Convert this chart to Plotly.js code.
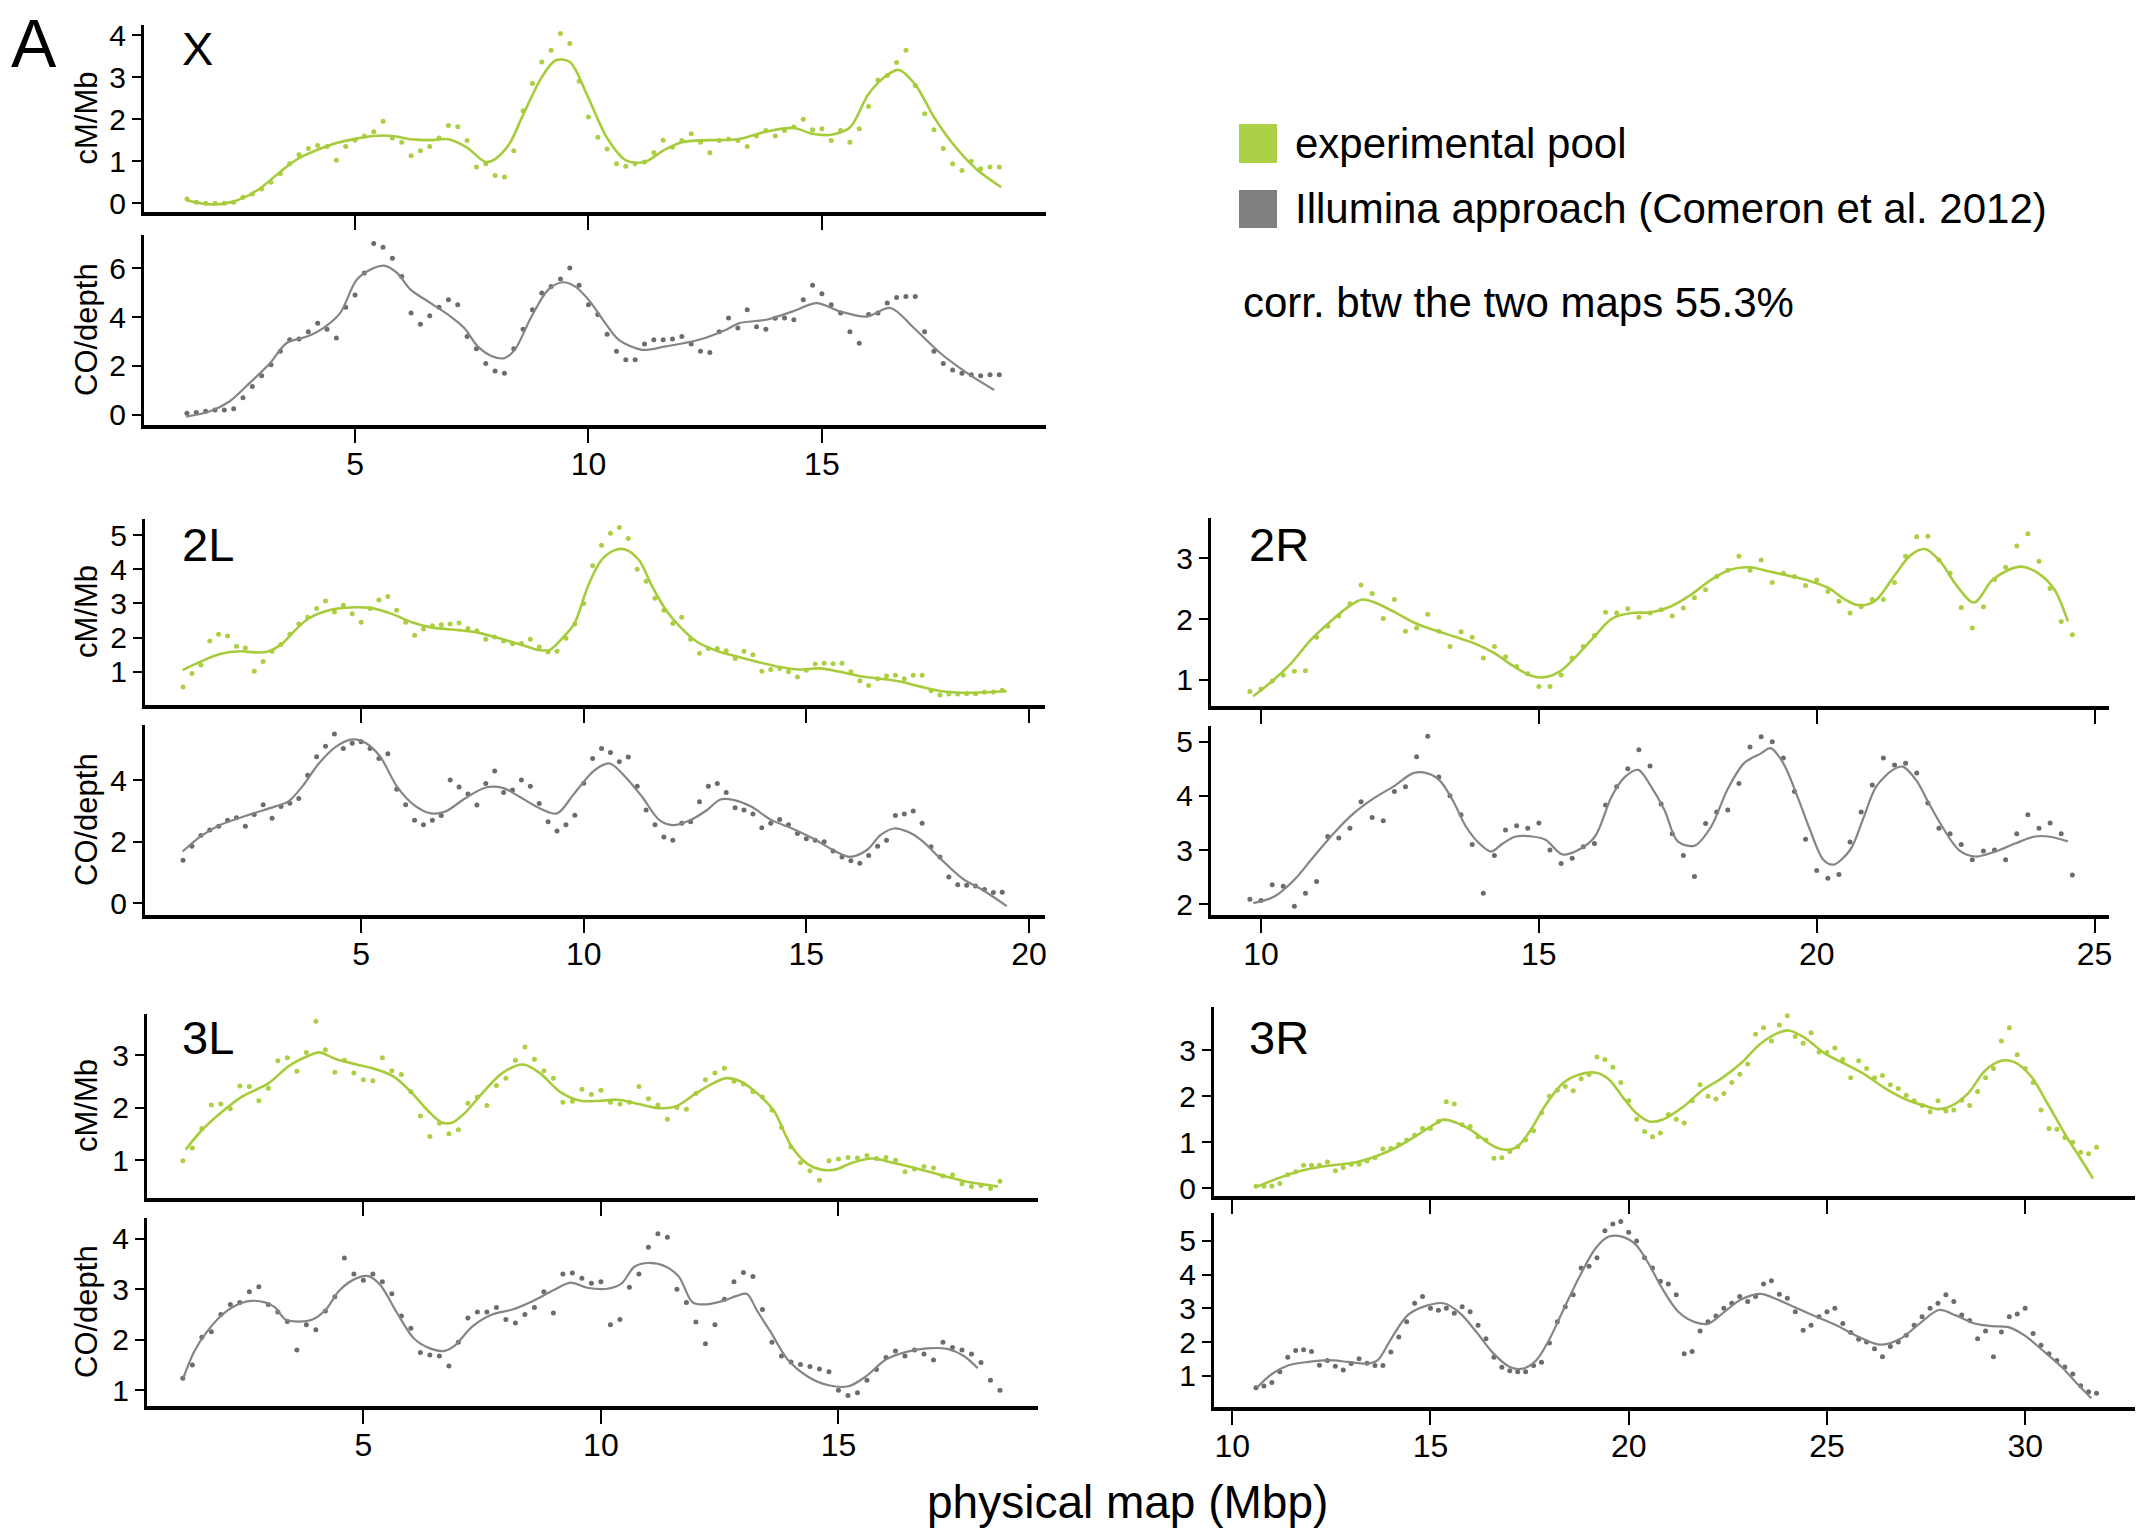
<!DOCTYPE html>
<html>
<head>
<meta charset="utf-8">
<script src="https://cdn.plot.ly/plotly-3.0.1.min.js"></script>
<style>
html,body{margin:0;padding:0;background:#fff;}
#chart{width:2146px;height:1532px;}
</style>
</head>
<body>
<div id="chart"></div>
<script>
// ---------------- DATA ----------------
// window grid step (Mb) of the dot series
const STEP = 0.2;

// X chromosome
const X_cm_start = 1.4;
const X_cm_dots = [0.1,0.02,0.0,0.0,0.0,0.02,0.14,0.22,0.34,0.5,
 0.7,0.94,1.15,1.3,1.37,1.35,1.02,1.35,1.5,1.6,
 1.7,1.95,1.55,1.45,1.13,1.25,1.35,1.55,1.85,1.82,
 1.49,0.86,0.94,0.66,0.62,1.25,2.2,2.85,3.36,3.64,
 4.04,3.8,2.9,2.05,1.57,1.29,0.94,0.88,0.94,0.98,
 1.2,1.5,1.33,1.49,1.65,1.45,1.2,1.49,1.53,1.49,
 1.35,1.6,1.73,1.6,1.73,1.81,2.0,1.75,1.77,1.49,
 1.73,1.45,1.77,2.3,2.93,3.04,3.35,3.64,2.8,2.13,
 1.75,1.3,0.94,0.78,1.0,0.82,0.86,0.86];
const X_cm_curveX = [1.4,1.8,2.2,2.6,3.0,3.4,3.8,4.2,4.6,5.0,5.4,5.8,6.2,6.6,7.0,7.4,7.8,8.0,8.3,8.6,9.0,9.3,9.6,10.0,10.4,10.8,11.2,11.6,12.0,12.6,13.2,13.8,14.4,14.8,15.2,15.6,16.0,16.4,16.65,17.0,17.4,17.8,18.3,18.84];
const X_cm_curveY = [0.07,-0.02,-0.01,0.12,0.38,0.75,1.07,1.27,1.43,1.53,1.6,1.6,1.52,1.5,1.52,1.32,0.98,1.05,1.4,2.1,3.0,3.4,3.36,2.5,1.55,1.02,0.98,1.25,1.45,1.5,1.52,1.7,1.79,1.65,1.63,1.8,2.6,3.05,3.17,2.82,2.05,1.42,0.82,0.38];

const X_co_start = 1.4;
const X_co_dots = [0.07,0.1,0.15,0.2,0.2,0.25,0.7,1.16,1.6,2.05,
 2.6,3.07,3.1,3.4,3.75,3.5,3.14,4.4,4.9,5.8,
 7.0,6.85,6.4,5.66,4.16,3.7,4.05,4.4,4.71,4.5,
 3.2,2.7,2.1,1.8,1.7,2.7,3.5,4.3,4.98,5.25,
 5.55,6.0,5.3,4.5,4.1,3.3,2.6,2.25,2.25,2.9,
 3.07,3.07,3.1,3.2,2.9,2.6,2.55,3.4,3.96,3.55,
 4.3,3.6,3.5,3.95,3.96,3.89,4.71,5.3,4.95,4.5,
 4.16,3.4,2.93,4.1,4.16,4.57,4.8,4.84,4.84,3.4,
 2.6,2.1,1.84,1.7,1.64,1.6,1.64,1.64];
const X_co_curveX = [1.38,1.88,2.31,2.74,3.18,3.53,3.97,4.32,4.68,5.04,5.4,5.62,5.9,6.19,6.62,7.05,7.34,7.63,7.92,8.2,8.42,8.78,9.14,9.45,9.71,10.0,10.36,10.65,11.15,11.65,12.37,12.95,13.23,13.81,14.38,14.89,15.39,15.96,16.47,16.97,17.54,18.12,18.69];
const X_co_curveY = [-0.07,0.14,0.55,1.3,2.11,2.93,3.2,3.55,4.16,5.53,6.0,6.1,5.8,5.12,4.57,4.02,3.55,2.8,2.41,2.32,2.66,4.02,5.12,5.42,5.25,4.71,3.75,3.07,2.66,2.8,3.07,3.48,3.75,3.89,4.23,4.57,4.23,4.02,4.37,3.55,2.52,1.7,1.02];

// 2L
const L2_cm_start = 1.0;
const L2_cm_dots = [0.56,0.95,1.2,1.9,2.1,2.05,1.75,1.7,1.02,1.3,
 1.6,1.8,2.1,2.4,2.6,2.85,3.07,2.75,2.95,2.7,
 2.45,2.85,3.1,3.2,2.8,2.45,2.07,2.25,2.35,2.38,
 2.4,2.43,2.27,2.2,1.95,2.02,1.9,1.82,1.83,1.95,
 1.73,1.58,1.6,1.98,2.4,3.0,4.1,4.7,5.05,5.22,
 4.9,4.0,3.65,3.15,2.8,2.41,2.6,1.95,1.54,1.68,
 1.68,1.62,1.39,1.6,1.5,1.02,1.07,1.1,1.0,0.85,
 1.05,1.23,1.25,1.24,1.25,1.0,0.74,0.6,0.8,0.88,
 0.9,0.8,0.9,0.9,0.45,0.32,0.35,0.35,0.36,0.36,
 0.4,0.41,0.46];
const L2_cm_curveX = [0.99,1.38,1.83,2.29,2.6,2.9,3.21,3.52,3.82,4.28,4.74,5.2,5.66,6.12,6.57,7.19,7.65,8.1,8.56,9.02,9.25,9.48,9.79,10.09,10.4,10.7,10.93,11.24,11.54,11.85,12.16,12.54,13.0,13.46,13.91,14.37,14.83,15.29,15.75,16.21,16.67,17.13,17.58,18.04,18.5,18.96,19.5];
const L2_cm_curveY = [1.05,1.29,1.52,1.6,1.57,1.59,1.81,2.22,2.56,2.8,2.88,2.87,2.71,2.46,2.3,2.22,2.14,1.98,1.81,1.63,1.65,1.93,2.41,3.49,4.27,4.56,4.58,4.27,3.49,2.8,2.32,1.88,1.61,1.44,1.29,1.15,1.07,1.1,1.0,0.87,0.8,0.71,0.56,0.43,0.39,0.4,0.43];

const L2_co_start = 1.0;
const L2_co_dots = [1.4,1.85,2.2,2.38,2.5,2.7,2.78,2.5,2.88,3.2,
 2.76,3.14,3.25,3.4,4.16,4.76,5.1,5.5,5.03,5.2,
 5.25,5.03,4.7,4.86,3.7,3.2,2.7,2.55,2.7,2.85,
 4.0,3.78,3.55,3.19,3.89,4.3,3.6,3.68,4.0,3.8,
 3.24,2.65,2.35,2.55,2.86,3.9,4.7,5.03,4.9,4.6,
 4.75,3.8,3.03,2.55,2.15,2.05,2.6,2.65,3.3,3.8,
 3.89,3.6,3.1,3.03,2.9,2.45,2.6,2.72,2.55,2.27,
 2.1,2.05,2.0,1.7,1.5,1.38,1.3,1.55,1.85,2.05,
 2.85,2.9,3.0,2.6,1.84,1.5,0.85,0.6,0.59,0.56,
 0.45,0.35,0.36];
const L2_co_curveX = [0.99,1.38,1.83,2.45,3.06,3.36,3.67,4.05,4.43,4.82,5.12,5.43,5.81,6.19,6.57,6.88,7.34,7.8,8.18,8.56,9.02,9.4,9.79,10.24,10.58,10.93,11.31,11.7,12.0,12.39,12.77,13.07,13.38,13.76,14.22,14.68,15.14,15.6,15.98,16.36,16.67,16.97,17.28,17.58,18.04,18.5,18.96,19.5];
const L2_co_curveY = [1.68,2.16,2.54,2.86,3.14,3.3,3.78,4.54,5.08,5.32,5.19,4.76,3.78,3.19,2.92,2.97,3.41,3.76,3.75,3.46,3.08,2.92,3.57,4.32,4.54,4.11,3.46,2.7,2.54,2.7,3.03,3.37,3.35,3.14,2.7,2.43,2.11,1.73,1.51,1.73,2.22,2.43,2.32,2.05,1.41,0.81,0.43,-0.09];

// 2R
const R2_cm_start = 9.8;
const R2_cm_dots = [0.81,0.85,0.98,1.08,1.14,1.15,1.7,1.88,2.05,2.25,
 2.56,2.42,2.01,2.32,1.8,1.85,2.08,1.8,1.55,1.79,
 1.7,1.36,1.55,1.38,1.22,1.1,0.89,0.89,1.08,1.36,
 1.55,1.73,2.11,2.1,2.17,2.03,2.1,2.15,2.05,2.18,
 2.35,2.48,2.7,2.8,3.03,2.8,2.97,2.6,2.75,2.7,
 2.55,2.64,2.45,2.29,2.1,2.2,2.32,2.32,2.6,3.03,
 3.35,3.36,2.97,2.75,2.19,1.85,2.2,2.65,2.85,3.2,
 3.4,2.95,2.5,1.96,1.74];
const R2_cm_curveX = [9.86,10.19,10.54,10.9,11.25,11.54,11.82,12.08,12.43,12.78,13.14,13.49,13.84,14.2,14.55,14.85,15.08,15.38,15.61,15.97,16.32,16.67,17.03,17.38,17.74,18.09,18.44,18.8,19.15,19.5,19.86,20.21,20.51,20.74,21.04,21.39,21.69,21.95,22.22,22.51,22.83,23.16,23.46,23.69,23.99,24.28,24.52];
const R2_cm_curveY = [0.73,0.97,1.27,1.66,1.96,2.18,2.32,2.26,2.1,1.93,1.81,1.71,1.6,1.44,1.22,1.07,1.04,1.14,1.33,1.68,2.01,2.1,2.11,2.21,2.4,2.64,2.81,2.85,2.78,2.71,2.63,2.51,2.32,2.23,2.29,2.7,3.05,3.15,2.95,2.56,2.27,2.64,2.81,2.86,2.75,2.48,1.96];

const R2_co_start = 9.8;
const R2_co_dots = [2.09,2.07,2.36,2.33,1.96,2.2,2.42,3.25,3.22,3.4,
 3.89,3.6,3.54,4.08,4.17,4.72,5.1,4.35,4.0,3.65,
 3.1,2.2,2.9,3.37,3.45,3.4,3.5,3.0,2.75,2.85,
 3.06,3.12,3.83,4.17,4.5,4.85,4.55,3.85,3.3,2.9,
 2.51,3.49,3.7,3.74,4.23,4.9,5.09,5.0,4.7,4.08,
 3.2,2.62,2.48,2.55,3.15,3.7,4.2,4.7,4.57,4.6,
 4.42,3.87,3.4,3.3,3.1,2.82,2.98,3.0,2.82,3.3,
 3.65,3.4,3.5,3.3,2.54];
const R2_co_curveX = [9.86,10.24,10.6,10.95,11.31,11.67,12.02,12.38,12.74,12.98,13.21,13.45,13.69,13.93,14.14,14.35,14.58,14.88,15.12,15.42,15.71,16.01,16.31,16.55,16.79,17.02,17.26,17.5,17.8,18.1,18.39,18.69,18.99,19.17,19.4,19.7,19.88,20.12,20.3,20.6,20.83,21.07,21.37,21.55,21.79,22.02,22.26,22.56,22.86,23.21,23.57,23.93,24.17,24.52];
const R2_co_curveY = [2.02,2.14,2.45,2.88,3.31,3.68,3.95,4.17,4.42,4.42,4.29,3.92,3.43,3.12,2.97,3.12,3.25,3.25,3.19,2.92,3.0,3.25,3.99,4.35,4.48,4.17,3.74,3.16,3.08,3.43,4.11,4.6,4.78,4.88,4.6,3.86,3.37,2.82,2.73,3.0,3.56,4.17,4.48,4.54,4.29,3.86,3.43,3.0,2.88,2.97,3.12,3.25,3.25,3.16];

// 3L
const L3_cm_start = 1.2;
const L3_cm_dots = [0.99,1.23,1.6,2.05,2.07,1.98,2.41,2.4,2.13,2.37,
 2.89,2.95,2.69,3.05,3.64,3.1,2.67,2.9,2.66,2.53,
 2.51,2.95,2.7,2.63,2.3,1.84,1.45,1.7,1.5,1.58,
 2.08,2.2,2.04,2.42,2.56,2.9,3.15,2.92,2.7,2.56,
 2.1,2.12,2.35,2.25,2.33,2.1,2.07,2.1,2.4,2.17,
 2.05,1.78,2.0,1.97,2.27,2.53,2.66,2.75,2.5,2.45,
 2.3,2.2,1.95,1.62,1.25,0.95,0.8,0.62,0.99,1.02,
 1.05,1.04,1.09,1.03,1.05,1.0,0.78,0.83,0.88,0.85,
 0.7,0.72,0.55,0.5,0.52,0.46,0.6];
const L3_cm_curveX = [1.26,1.57,2.0,2.43,3.0,3.43,3.86,4.07,4.43,4.86,5.29,5.64,6.0,6.36,6.64,6.86,7.14,7.5,7.93,8.36,8.71,9.14,9.57,10.0,10.36,10.79,11.21,11.57,12.0,12.36,12.64,12.93,13.29,13.64,14.0,14.36,14.64,14.93,15.29,15.71,16.14,16.57,17.14,17.71,18.36];
const L3_cm_curveY = [1.2,1.54,1.9,2.2,2.46,2.79,2.99,3.05,2.92,2.82,2.72,2.59,2.3,1.94,1.72,1.71,1.9,2.27,2.66,2.82,2.66,2.3,2.13,2.13,2.15,2.07,1.99,2.02,2.27,2.46,2.56,2.5,2.27,1.94,1.28,0.92,0.82,0.82,0.95,1.03,0.95,0.86,0.72,0.59,0.5];

const L3_co_start = 1.2;
const L3_co_dots = [1.24,1.5,2.05,2.16,2.5,2.7,2.74,2.95,3.05,2.7,
 2.55,2.36,1.8,2.3,2.2,2.57,2.85,3.62,3.3,3.18,
 3.3,3.15,2.91,2.47,2.23,1.75,1.7,1.68,1.48,1.95,
 2.43,2.55,2.55,2.64,2.4,2.33,2.5,2.64,2.95,2.53,
 3.3,3.32,3.22,3.12,3.15,2.3,2.4,3.04,3.3,3.83,
 4.1,4.03,3.0,2.74,2.35,1.92,2.3,2.8,3.15,3.33,
 3.25,2.6,1.95,1.68,1.56,1.51,1.47,1.42,1.37,1.0,
 0.9,0.95,1.2,1.41,1.65,1.78,1.68,1.8,1.72,1.6,
 1.95,1.85,1.8,1.72,1.55,1.2,1.0];
const L3_co_curveX = [1.21,1.43,1.71,2.0,2.29,2.64,2.93,3.14,3.36,3.64,3.93,4.21,4.5,4.86,5.11,5.36,5.71,6.07,6.43,6.71,6.93,7.29,7.71,8.14,8.57,9.0,9.36,9.71,10.14,10.43,10.71,11.0,11.36,11.64,11.93,12.21,12.57,12.86,13.07,13.29,13.57,13.93,14.36,14.79,15.21,15.57,16.0,16.43,16.86,17.29,17.64,17.93];
const L3_co_curveY = [1.24,1.75,2.16,2.47,2.67,2.77,2.74,2.64,2.4,2.36,2.4,2.6,2.98,3.22,3.26,3.08,2.53,2.02,1.82,1.78,1.89,2.26,2.5,2.6,2.77,2.98,3.13,3.03,3.01,3.11,3.45,3.52,3.45,3.25,2.74,2.7,2.77,2.87,2.91,2.57,2.16,1.61,1.27,1.1,1.08,1.27,1.61,1.76,1.83,1.82,1.68,1.44];

// 3R
const R3_cm_start = 10.6;
const R3_cm_dots = [0.04,0.04,0.05,0.1,0.29,0.36,0.5,0.5,0.5,0.57,
 0.38,0.45,0.52,0.52,0.59,0.66,0.85,0.87,0.95,1.05,
 1.15,1.3,1.3,1.45,1.88,1.83,1.38,1.34,1.12,1.05,
 0.65,0.66,0.8,0.9,1.05,1.25,1.64,2.0,2.13,2.21,
 2.12,2.38,2.47,2.85,2.8,2.63,2.3,1.9,1.5,1.23,
 1.12,1.2,1.6,1.5,1.42,1.9,2.25,2.0,1.94,2.06,
 2.3,2.48,2.7,3.35,3.49,3.2,3.55,3.75,3.3,3.15,
 3.38,2.96,2.95,3.05,2.8,2.4,2.77,2.6,2.4,2.45,
 2.25,2.17,2.02,1.9,1.8,1.66,1.9,1.68,1.7,1.91,
 1.8,2.1,2.4,2.6,3.2,3.49,2.9,2.6,2.3,1.7,
 1.3,1.28,1.1,1.0,0.78,0.75,0.89];
const R3_cm_curveX = [10.64,11.14,11.64,12.14,12.65,13.15,13.65,14.15,14.66,15.08,15.33,15.66,16.08,16.5,16.83,17.17,17.5,17.92,18.34,18.76,19.18,19.51,19.85,20.18,20.52,20.85,21.36,21.86,22.36,22.86,23.28,23.7,24.04,24.46,24.96,25.46,25.96,26.47,26.97,27.47,27.81,28.14,28.56,28.98,29.4,29.73,30.15,30.57,31.07,31.41,31.71];
const R3_cm_curveY = [0.04,0.21,0.36,0.45,0.51,0.57,0.7,0.89,1.15,1.38,1.49,1.42,1.23,0.96,0.84,0.89,1.23,1.83,2.28,2.47,2.51,2.36,1.98,1.64,1.45,1.49,1.76,2.13,2.4,2.74,3.11,3.35,3.43,3.26,2.92,2.7,2.47,2.17,1.94,1.79,1.72,1.79,2.06,2.55,2.77,2.74,2.43,1.83,1.08,0.63,0.21];

const R3_co_start = 10.6;
const R3_co_dots = [0.64,0.69,0.8,1.12,1.55,1.75,1.77,1.72,1.31,1.45,
 1.28,1.17,1.36,1.5,1.37,1.3,1.3,1.7,2.15,2.6,
 3.15,3.35,3.0,2.94,3.0,2.85,3.05,2.9,2.5,2.1,
 1.55,1.25,1.15,1.12,1.12,1.3,1.4,1.97,2.6,3.05,
 3.4,4.2,4.25,4.5,5.3,5.5,5.58,5.26,5.0,4.5,
 4.2,3.8,3.72,3.4,1.65,1.72,2.33,2.6,2.77,3.0,
 3.15,3.35,3.2,3.35,3.72,3.82,3.42,3.3,2.9,2.35,
 2.5,2.75,2.9,3.0,2.55,2.28,2.08,2.0,1.8,1.56,
 1.87,2.0,2.2,2.5,2.75,3.0,3.15,3.4,3.2,2.8,
 2.64,2.1,2.33,1.56,2.3,2.75,2.83,3.0,2.25,1.9,
 1.65,1.45,1.26,1.05,0.7,0.52,0.48];
const R3_co_curveX = [10.62,11.0,11.42,11.92,12.42,12.92,13.42,13.67,14.0,14.42,14.83,15.33,15.75,16.17,16.58,17.0,17.33,17.67,18.0,18.33,18.75,19.17,19.5,19.83,20.17,20.5,20.83,21.25,21.67,22.0,22.42,22.83,23.33,23.75,24.25,24.75,25.25,25.75,26.33,26.83,27.33,27.83,28.25,28.75,29.17,29.58,30.0,30.42,30.92,31.33,31.67];
const R3_co_curveY = [0.64,1.05,1.31,1.41,1.46,1.41,1.36,1.46,2.08,2.79,3.05,3.15,2.85,2.28,1.67,1.26,1.21,1.46,2.08,2.9,3.92,4.79,5.13,5.13,4.9,4.33,3.62,2.9,2.59,2.54,2.9,3.26,3.43,3.26,3.0,2.74,2.49,2.18,1.92,2.08,2.54,2.95,2.79,2.54,2.47,2.44,2.18,1.77,1.26,0.74,0.33];

// texts
const chromLabels = ['X','2L','2R','3L','3R'];
const legendLabels = ['experimental pool','Illumina approach (Comeron et al. 2012)'];
const corrText = 'corr. btw the two maps 55.3%';
const xTitle = 'physical map (Mbp)';

// ---------------- LAYOUT / STYLE ----------------
const W = 2146, H = 1532;
const GREEN = '#a6cc3c', GREEN_DOT = '#abd044', GREY = '#858585', GREY_DOT = '#6c6c6c';
const FONT = 'Liberation Sans, Arial, Helvetica, sans-serif';

function px(x){ return x / W; }
function py(y){ return 1 - y / H; }

function gridX(start, n){ const a=[]; for(let i=0;i<n;i++) a.push(+(start + i*STEP).toFixed(2)); return a; }

const panels = [
 {dots:X_cm_dots, start:X_cm_start, cx:X_cm_curveX, cy:X_cm_curveY, kind:'cm', box:[144,1046,25,212], xr:[0.48,19.8], yr:[-0.21,4.24], yt:[0,1,2,3,4], xt:[5,10,15], xlab:false, ytitle:'cM/Mb'},
 {dots:X_co_dots, start:X_co_start, cx:X_co_curveX, cy:X_co_curveY, kind:'co', box:[144,1046,235,425], xr:[0.48,19.8], yr:[-0.41,7.35], yt:[0,2,4,6], xt:[5,10,15], xlab:true, ytitle:'CO/depth'},
 {dots:L2_cm_dots, start:L2_cm_start, cx:L2_cm_curveX, cy:L2_cm_curveY, kind:'cm', box:[145,1045,519,705], xr:[0.146,20.36], yr:[0.03,5.47], yt:[1,2,3,4,5], xt:[5,10,15,20], xlab:false, ytitle:'cM/Mb'},
 {dots:L2_co_dots, start:L2_co_start, cx:L2_co_curveX, cy:L2_co_curveY, kind:'co', box:[145,1045,725,915], xr:[0.146,20.36], yr:[-0.38,5.79], yt:[0,2,4], xt:[5,10,15,20], xlab:true, ytitle:'CO/depth'},
 {dots:R2_cm_dots, start:R2_cm_start, cx:R2_cm_curveX, cy:R2_cm_curveY, kind:'cm', box:[1211,2109,518,706], xr:[9.1,25.26], yr:[0.57,3.66], yt:[1,2,3], xt:[10,15,20,25], xlab:false, ytitle:null},
 {dots:R2_co_dots, start:R2_co_start, cx:R2_co_curveX, cy:R2_co_curveY, kind:'co', box:[1211,2109,726,915], xr:[9.1,25.26], yr:[1.8,5.29], yt:[2,3,4,5], xt:[10,15,20,25], xlab:true, ytitle:null},
 {dots:L3_cm_dots, start:L3_cm_start, cx:L3_cm_curveX, cy:L3_cm_curveY, kind:'cm', box:[147,1038,1014,1198], xr:[0.446,19.2], yr:[0.28,3.78], yt:[1,2,3], xt:[5,10,15], xlab:false, ytitle:'cM/Mb'},
 {dots:L3_co_dots, start:L3_co_start, cx:L3_co_curveX, cy:L3_co_curveY, kind:'co', box:[147,1038,1218,1406], xr:[0.446,19.2], yr:[0.69,4.41], yt:[1,2,3,4], xt:[5,10,15], xlab:true, ytitle:'CO/depth'},
 {dots:R3_cm_dots, start:R3_cm_start, cx:R3_cm_curveX, cy:R3_cm_curveY, kind:'cm', box:[1214,2135,1007,1196], xr:[9.54,32.77], yr:[-0.17,3.94], yt:[0,1,2,3], xt:[10,15,20,25,30], xlab:false, ytitle:null},
 {dots:R3_co_dots, start:R3_co_start, cx:R3_co_curveX, cy:R3_co_curveY, kind:'co', box:[1214,2135,1213,1407], xr:[9.54,32.77], yr:[0.07,5.83], yt:[1,2,3,4,5], xt:[10,15,20,25,30], xlab:true, ytitle:null}
];

const traces = [];
const layout = {
  width: W, height: H,
  margin: {l:0, r:0, t:0, b:0},
  paper_bgcolor: '#ffffff', plot_bgcolor: 'rgba(0,0,0,0)',
  showlegend: false,
  font: {family: FONT, color: '#000'},
  annotations: [], shapes: []
};

panels.forEach((p, i) => {
  const n = i + 1;
  const xa = 'x' + (n === 1 ? '' : n), ya = 'y' + (n === 1 ? '' : n);
  const dotColor = p.kind === 'cm' ? GREEN_DOT : GREY_DOT;
  const lineColor = p.kind === 'cm' ? GREEN : GREY;
  traces.push({
    type: 'scatter', mode: 'markers', xaxis: xa, yaxis: ya,
    x: gridX(p.start, p.dots.length), y: p.dots,
    marker: {size: 5, color: dotColor}, cliponaxis: false, hoverinfo: 'skip'
  });
  traces.push({
    type: 'scatter', mode: 'lines', xaxis: xa, yaxis: ya,
    x: p.cx, y: p.cy,
    line: {color: lineColor, width: p.kind === 'cm' ? 2.6 : 2.2, shape: 'spline', smoothing: 0.9},
    cliponaxis: false, hoverinfo: 'skip'
  });
  const [x0, x1, yTop, yBot] = p.box;
  layout['xaxis' + (n === 1 ? '' : n)] = {
    domain: [px(x0), px(x1)], range: p.xr, anchor: ya,
    tickmode: 'array', tickvals: p.xt, ticktext: p.xt.map(String),
    showticklabels: p.xlab, ticks: 'outside', ticklen: 14, tickwidth: 2, tickcolor: '#000',
    ticklabelstandoff: -6,
    showline: true, linewidth: 4, linecolor: '#000',
    showgrid: false, zeroline: false,
    tickfont: {size: 32, family: FONT, color: '#000'}, fixedrange: true
  };
  layout['yaxis' + (n === 1 ? '' : n)] = {
    domain: [py(yBot), py(yTop)], range: p.yr, anchor: xa,
    tickmode: 'array', tickvals: p.yt, ticktext: p.yt.map(String),
    ticks: 'outside', ticklen: 9, tickwidth: 2, tickcolor: '#000',
    showline: true, linewidth: 3, linecolor: '#000',
    showgrid: false, zeroline: false,
    tickfont: {size: 30, family: FONT, color: '#000'}, fixedrange: true
  };
  if (p.ytitle) {
    layout.annotations.push({
      xref: 'paper', yref: 'paper', x: px(86), y: py((yTop + yBot) / 2),
      xanchor: 'center', yanchor: 'middle', textangle: -90, showarrow: false,
      text: p.ytitle, font: {size: 31, family: FONT, color: '#000'}
    });
  }
});

// panel letters and chromosome labels
layout.annotations.push({xref:'paper', yref:'paper', x:px(9), y:py(43), xanchor:'left', yanchor:'middle', showarrow:false, text:'A', font:{size:68, family:FONT, color:'#000'}});
const chromPos = [[180,49],[180,544],[1247,544],[180,1037],[1247,1037]];
chromLabels.forEach((t, i) => {
  layout.annotations.push({xref:'paper', yref:'paper', x:px(chromPos[i][0]), y:py(chromPos[i][1]), xanchor:'left', yanchor:'middle', showarrow:false, text:t, font:{size:47, family:FONT, color:'#000'}});
});

// legend
const legendColors = ['#acd046', '#808080'];
const legendRows = [[124,163,143],[190,228,208]];
legendLabels.forEach((t, i) => {
  layout.shapes.push({type:'rect', xref:'paper', yref:'paper', x0:px(1239), x1:px(1277), y0:py(legendRows[i][1]), y1:py(legendRows[i][0]), fillcolor:legendColors[i], line:{width:0}});
  layout.annotations.push({xref:'paper', yref:'paper', x:px(1293), y:py(legendRows[i][2]), xanchor:'left', yanchor:'middle', showarrow:false, text:t, font:{size:42, family:FONT, color:'#000'}});
});
layout.annotations.push({xref:'paper', yref:'paper', x:px(1241), y:py(302), xanchor:'left', yanchor:'middle', showarrow:false, text:corrText, font:{size:42, family:FONT, color:'#000'}});

// common x title
layout.annotations.push({xref:'paper', yref:'paper', x:px(1127), y:py(1502), xanchor:'center', yanchor:'middle', showarrow:false, text:xTitle, font:{size:46, family:FONT, color:'#000'}});

Plotly.newPlot('chart', traces, layout, {staticPlot: true, displayModeBar: false});
</script>
</body>
</html>
